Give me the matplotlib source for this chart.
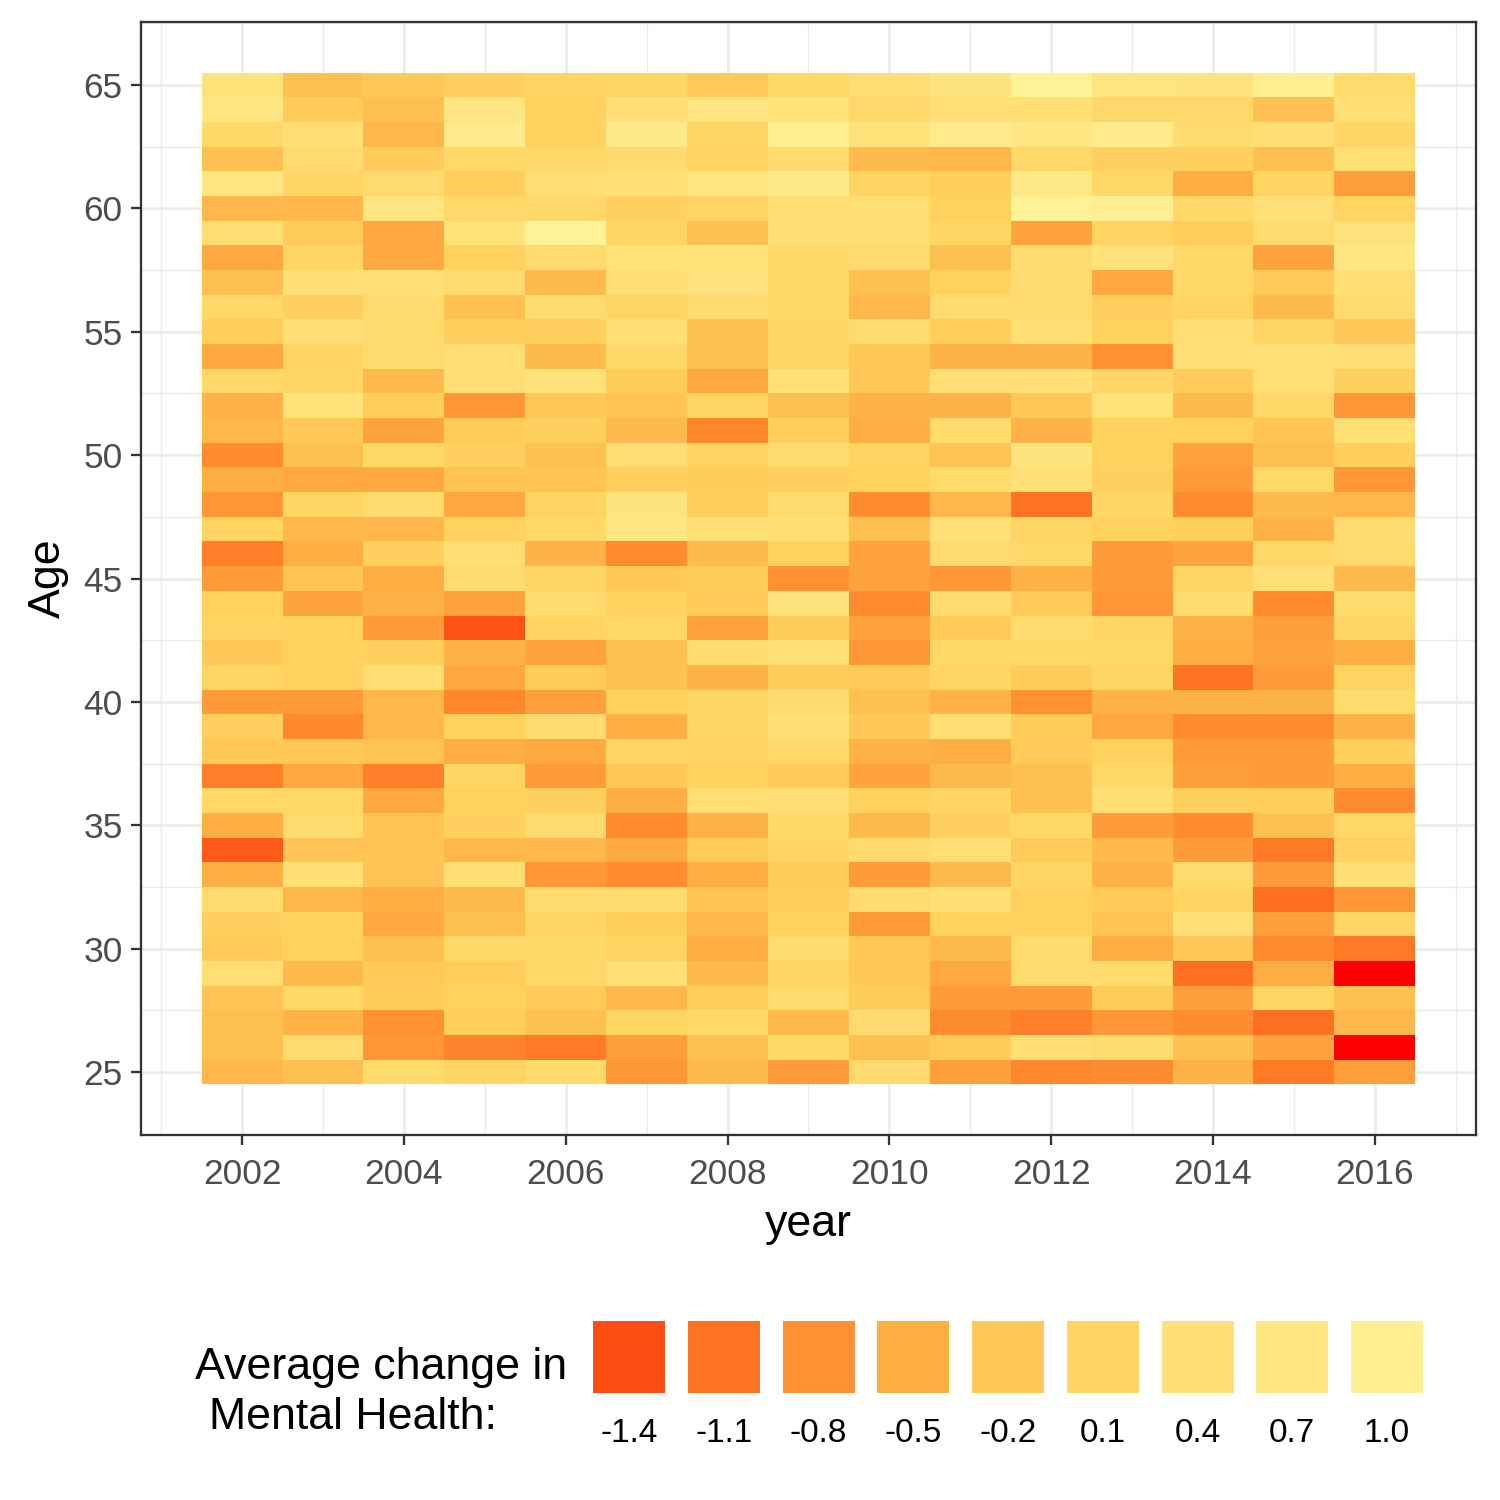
import numpy as np
import matplotlib
matplotlib.use("Agg")
import matplotlib.pyplot as plt
from matplotlib.colors import LinearSegmentedColormap, Normalize
from matplotlib.patches import Rectangle

plt.rcParams['font.family'] = ['Liberation Sans', 'DejaVu Sans']

years = list(range(2002, 2017))
ages = list(range(65, 24, -1))  # rows listed from age 65 down to 25

# Average change in mental health, one row per age (65 -> 25), columns 2002..2016
values = [
    [0.5, -0.3, -0.2, 0.0, 0.1, 0.15, -0.15, 0.2, 0.35, 0.6, 1.1, 0.65, 0.55, 1.0, 0.25],
    [0.65, -0.1, -0.3, 0.7, 0.05, 0.4, 0.65, 0.55, 0.2, 0.4, 0.4, 0.2, 0.2, -0.3, 0.35],
    [0.2, 0.35, -0.4, 0.85, 0.05, 0.8, 0.15, 0.9, 0.5, 0.85, 0.7, 0.85, 0.3, 0.35, 0.15],
    [-0.3, 0.3, -0.1, 0.2, 0.2, 0.3, 0.1, 0.3, -0.35, -0.4, 0.2, 0.0, 0.0, -0.3, 0.35],
    [0.7, 0.15, 0.3, -0.05, 0.35, 0.45, 0.65, 0.8, 0.1, -0.05, 0.75, 0.2, -0.5, 0.1, -0.65],
    [-0.4, -0.4, 0.65, 0.2, 0.2, 0.0, 0.15, 0.35, 0.35, 0.05, 1.05, 0.95, 0.2, 0.45, 0.1],
    [0.35, -0.1, -0.55, 0.5, 1.1, 0.15, -0.3, 0.4, 0.35, 0.15, -0.6, 0.1, -0.05, 0.3, 0.55],
    [-0.55, 0.15, -0.55, 0.05, 0.25, 0.5, 0.5, 0.2, 0.3, -0.3, 0.3, 0.55, 0.2, -0.6, 0.7],
    [-0.3, 0.4, 0.45, 0.3, -0.35, 0.35, 0.55, 0.2, -0.3, 0.05, 0.3, -0.55, 0.2, -0.15, 0.35],
    [0.2, 0.0, 0.3, -0.3, 0.3, 0.15, 0.3, 0.2, -0.4, 0.3, 0.3, 0.0, 0.1, -0.35, 0.3],
    [-0.05, 0.4, 0.25, -0.05, 0.0, 0.35, -0.3, 0.15, 0.3, -0.05, 0.35, 0.05, 0.4, 0.15, -0.2],
    [-0.55, 0.1, 0.3, 0.4, -0.35, 0.2, -0.3, 0.15, -0.2, -0.45, -0.45, -0.8, 0.45, 0.45, 0.4],
    [0.2, 0.15, -0.35, 0.35, 0.5, -0.1, -0.55, 0.45, -0.2, 0.4, 0.4, 0.15, -0.1, 0.35, 0.0],
    [-0.45, 0.5, -0.05, -0.75, -0.2, -0.25, 0.15, -0.3, -0.45, -0.45, -0.2, 0.5, -0.35, 0.2, -0.75],
    [-0.4, -0.2, -0.6, -0.1, 0.0, -0.35, -0.9, -0.05, -0.5, 0.25, -0.45, 0.05, 0.05, -0.25, 0.35],
    [-0.85, -0.3, 0.2, 0.0, -0.3, 0.35, 0.1, 0.3, 0.1, -0.25, 0.6, 0.05, -0.6, -0.3, -0.05],
    [-0.5, -0.55, -0.55, -0.25, -0.25, 0.0, -0.1, 0.0, 0.05, 0.25, 0.4, 0.0, -0.7, 0.2, -0.75],
    [-0.75, 0.15, 0.25, -0.55, 0.1, 0.6, -0.05, 0.25, -0.85, -0.4, -1.1, 0.15, -0.85, -0.35, -0.4],
    [0.1, -0.4, -0.4, 0.05, 0.2, 0.65, 0.35, 0.35, -0.3, 0.45, 0.15, 0.05, -0.05, -0.45, 0.3],
    [-1.0, -0.5, 0.0, 0.35, -0.45, -0.85, -0.35, 0.05, -0.6, 0.3, 0.2, -0.7, -0.6, 0.2, 0.25],
    [-0.7, -0.25, -0.5, 0.25, 0.15, -0.2, -0.1, -0.8, -0.6, -0.75, -0.45, -0.7, 0.15, 0.45, -0.35],
    [0.05, -0.6, -0.45, -0.6, 0.3, 0.05, -0.15, 0.6, -0.85, 0.3, -0.15, -0.75, 0.3, -0.85, 0.25],
    [0.1, 0.05, -0.7, -1.35, 0.1, 0.2, -0.6, -0.1, -0.6, -0.15, 0.3, 0.15, -0.45, -0.65, 0.15],
    [-0.2, 0.05, 0.0, -0.45, -0.6, -0.3, 0.25, 0.45, -0.75, 0.2, 0.2, 0.2, -0.5, -0.6, -0.5],
    [0.15, 0.05, 0.35, -0.55, -0.1, -0.3, -0.45, -0.1, -0.15, 0.15, -0.1, 0.15, -1.1, -0.7, 0.1],
    [-0.7, -0.7, -0.4, -0.9, -0.65, 0.05, 0.15, 0.3, -0.3, -0.45, -0.8, -0.45, -0.45, -0.45, 0.3],
    [0.0, -0.9, -0.4, 0.05, 0.3, -0.5, 0.15, 0.4, -0.2, 0.35, -0.1, -0.55, -0.85, -0.85, -0.45],
    [-0.2, -0.2, -0.25, -0.5, -0.55, 0.15, 0.1, 0.2, -0.45, -0.5, -0.15, 0.05, -0.7, -0.7, 0.0],
    [-1.0, -0.55, -1.0, 0.15, -0.7, -0.2, 0.05, -0.15, -0.6, -0.35, -0.3, 0.2, -0.65, -0.7, -0.5],
    [0.2, 0.2, -0.55, 0.05, 0.0, -0.5, 0.35, 0.4, 0.05, 0.15, -0.3, 0.35, 0.0, -0.05, -0.85],
    [-0.5, 0.25, -0.25, 0.0, 0.25, -0.85, -0.45, 0.2, -0.35, 0.0, 0.2, -0.7, -0.85, -0.3, 0.2],
    [-1.3, -0.25, -0.25, -0.4, -0.4, -0.55, -0.1, 0.15, 0.25, 0.35, -0.15, -0.35, -0.7, -1.05, 0.05],
    [-0.5, 0.4, -0.25, 0.35, -0.75, -0.85, -0.5, -0.1, -0.7, -0.35, 0.15, -0.45, 0.25, -0.7, 0.4],
    [0.25, -0.4, -0.5, -0.35, 0.25, 0.25, -0.25, -0.05, 0.25, 0.4, 0.05, -0.15, 0.1, -1.15, -0.75],
    [0.0, 0.05, -0.55, -0.3, 0.15, -0.05, -0.4, 0.05, -0.7, 0.05, 0.05, -0.25, 0.45, -0.65, 0.15],
    [-0.15, 0.05, -0.3, 0.2, 0.2, 0.1, -0.5, 0.3, -0.2, -0.35, 0.25, -0.5, -0.2, -0.85, -1.05],
    [0.35, -0.35, -0.15, -0.05, 0.2, 0.45, -0.35, 0.15, -0.2, -0.55, 0.25, 0.25, -1.15, -0.5, -2.0],
    [-0.25, 0.2, -0.1, 0.05, -0.15, -0.4, -0.05, 0.25, -0.1, -0.7, -0.7, -0.1, -0.65, 0.15, -0.3],
    [-0.3, -0.45, -0.8, -0.05, -0.3, 0.1, 0.2, -0.35, 0.3, -0.85, -1.0, -0.75, -0.85, -1.15, -0.4],
    [-0.3, 0.3, -0.75, -0.95, -1.05, -0.65, -0.3, 0.2, -0.3, -0.1, 0.35, 0.25, -0.3, -0.6, -2.0],
    [-0.4, -0.3, 0.25, 0.1, 0.25, -0.75, -0.35, -0.7, 0.3, -0.65, -0.9, -0.85, -0.45, -1.05, -0.65],
]

legend_values = [-1.4, -1.1, -0.8, -0.5, -0.2, 0.1, 0.4, 0.7, 1.0]
legend_labels = ["-1.4", "-1.1", "-0.8", "-0.5", "-0.2", "0.1", "0.4", "0.7", "1.0"]

# colour scale (value -> colour)
scale_values = [-2.0, -1.4, -1.1, -0.8, -0.5, -0.2, 0.1, 0.4, 0.7, 1.0, 1.2]
scale_colors = ["#FF0000", "#FF4E14", "#FF7524", "#FF9134", "#FFAD44", "#FFC858",
                "#FFD462", "#FFDF76", "#FFE682", "#FFF094", "#FFF59B"]

vmin, vmax = scale_values[0], scale_values[-1]
cmap = LinearSegmentedColormap.from_list(
    "mh", [((v - vmin) / (vmax - vmin), c) for v, c in zip(scale_values, scale_colors)])
norm = Normalize(vmin=vmin, vmax=vmax)

Z = np.array(values)
assert Z.shape == (len(ages), len(years))

W, H = 1500, 1500
fig = plt.figure(figsize=(10, 10), dpi=150)
L, R, T, B = 141, 1476, 22, 1135
ax = fig.add_axes([L / W, 1 - B / H, (R - L) / W, (B - T) / H])

xe = np.arange(years[0] - 0.5, years[-1] + 1.0, 1.0)
ye = np.array(ages[::-1] + [ages[0] + 1]) - 0.5
ax.pcolormesh(xe, ye, Z[::-1, :], cmap=cmap, norm=norm, shading='flat', zorder=2)

ax.set_xlim(2000.75, 2017.25)
ax.set_ylim(22.45, 67.55)

grid_col = "#EBEBEB"
ax.set_xticks(range(2002, 2017, 2))
ax.set_xticks(range(2001, 2018, 2), minor=True)
ax.set_yticks(range(25, 66, 5))
ax.set_yticks(np.arange(22.5, 68, 5), minor=True)
ax.grid(which='major', color=grid_col, linewidth=1.2, zorder=0)
ax.grid(which='minor', color=grid_col, linewidth=0.65, zorder=0)
ax.set_axisbelow(True)
ax.tick_params(which='major', length=4.8, width=1.1, color="#333333",
               labelsize=17, labelcolor="#4D4D4D")
ax.tick_params(axis='x', which='major', pad=6)
ax.tick_params(axis='y', which='major', pad=4)
ax.tick_params(which='minor', length=0)
for s in ax.spines.values():
    s.set_color("#333333")
    s.set_linewidth(1.1)

fs_title = 21.5
fig.text(808.5 / W, 1 - 1236 / H, "year", ha='center', va='baseline', fontsize=fs_title, color='black')
fig.text(60 / W, 1 - 578.5 / H, "Age", ha='center', va='baseline', rotation=90,
         rotation_mode='anchor', fontsize=fs_title, color='black')

# legend drawn in pixel coordinates
lax = fig.add_axes([0, 0, 1, 1])
lax.set_xlim(0, W)
lax.set_ylim(H, 0)
lax.axis('off')
lax.patch.set_alpha(0)

lax.text(195, 1379, "Average change in", ha='left', va='baseline', fontsize=fs_title, color='black')
lax.text(209, 1429, "Mental Health:", ha='left', va='baseline', fontsize=fs_title, color='black')

key_x0, key_step, key_w, key_top = 593, 94.75, 72, 1321
for i, (v, lab) in enumerate(zip(legend_values, legend_labels)):
    x = key_x0 + i * key_step
    lax.add_patch(Rectangle((x, key_top), key_w, key_w, facecolor=cmap(norm(v)), edgecolor='none'))
    lax.text(x + key_w / 2, 1442, lab, ha='center', va='baseline', fontsize=16, color='black')

fig.savefig("out.png", dpi=150, facecolor='white')
